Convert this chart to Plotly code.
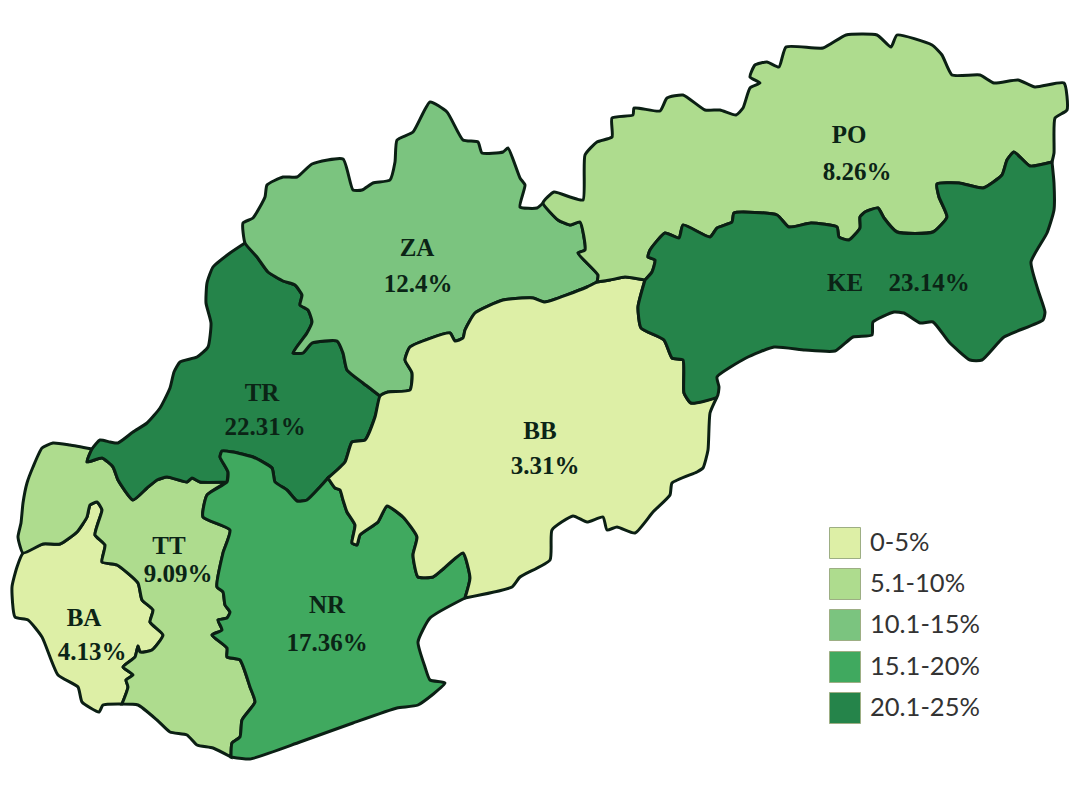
import plotly.graph_objects as go

# Region outlines were traced off the picture, in picture pixels. Shared borders are
# kept once, as arcs, so that neighbouring regions meet exactly.
TT_NW = [(23, 553), (18, 537), (21, 523), (23, 503), (27, 483), (33, 467), (42, 448), (53, 443), (70, 445), (92, 449)]
TR_WEST = [(92, 449), (100, 440), (110, 442), (118, 443), (133, 432), (147, 423), (160, 408), (170, 388), (174, 372),
           (180, 362), (197, 357), (208, 347), (211, 323), (206, 303), (207, 283), (213, 267), (230, 253), (245, 243)]
TR_ZA = [(245, 243), (257, 257), (268, 272), (283, 281), (295, 285), (302, 295), (300, 305), (308, 310), (312, 322),
         (307, 333), (293, 353), (303, 353), (312, 343), (337, 341), (343, 353), (347, 370), (363, 383), (380, 396)]
TR_BB = [(380, 396), (375, 417), (365, 440), (352, 442), (345, 462), (328, 478)]
TR_NR = [(328, 478), (320, 487), (307, 500), (297, 501), (287, 490), (275, 482), (272, 468), (253, 457), (233, 452),
         (222, 451), (220, 457), (228, 472), (227, 482)]
TR_TT = [(227, 482), (200, 482), (192, 478), (187, 482), (167, 477), (157, 480), (147, 488), (133, 500), (118, 480),
         (113, 467), (102, 458), (87, 462), (92, 449)]
NR_TT = [(227, 482), (207, 495), (203, 517), (230, 530), (223, 553), (217, 587), (223, 592), (225, 605), (230, 612),
         (227, 618), (218, 620), (222, 630), (212, 635), (227, 648), (227, 657), (240, 660), (250, 687), (255, 702),
         (242, 720), (240, 737), (232, 743), (231, 757)]
BA_TT = [(23, 553), (43, 544), (60, 544), (77, 532), (87, 517), (90, 505), (97, 502), (102, 510), (98, 523), (95, 535),
         (105, 545), (102, 562), (117, 565), (138, 583), (142, 600), (153, 610), (150, 622), (163, 635), (152, 650),
         (140, 652), (138, 646), (135, 657), (123, 667), (133, 675), (126, 680), (128, 687), (122, 704)]
BA_OUTER = [(122, 704), (103, 705), (99, 712), (82, 702), (78, 687), (58, 675), (42, 637), (28, 620), (15, 617),
            (12, 587), (17, 567), (23, 553)]
TT_SOUTH = [(122, 704), (138, 705), (157, 720), (170, 732), (187, 735), (197, 745), (213, 748), (231, 757)]
NR_SOUTH = [(231, 757), (250, 759), (300, 742), (353, 723), (397, 708), (418, 705), (445, 683), (430, 680), (425, 667),
            (418, 642), (430, 618), (465, 598)]
NR_BB = [(328, 478), (335, 488), (340, 490), (343, 500), (347, 512), (355, 525), (352, 543), (357, 545), (360, 535),
         (378, 522), (387, 506), (403, 517), (417, 537), (413, 555), (418, 577), (433, 577), (442, 570), (463, 553),
         (470, 578), (465, 598)]
BB_SOUTH = [(465, 598), (512, 587), (520, 577), (550, 560), (552, 530), (573, 516), (587, 522), (603, 517), (607, 530),
            (617, 527), (635, 533), (653, 512), (670, 495), (672, 483), (697, 472), (703, 468), (708, 450), (710, 413),
            (717, 397)]
BB_KE = [(717, 397), (691, 403), (684, 393), (683, 360), (672, 358), (664, 340), (641, 328), (638, 307), (645, 280)]
KE_OUTER = [(717, 397), (719, 387), (717, 377), (746, 358), (774, 347), (805, 350), (835, 351), (853, 337), (872, 335),
            (873, 322), (894, 312), (904, 313), (920, 323), (933, 322), (949, 342), (970, 360), (982, 360), (1004, 337),
            (1043, 320), (1045, 312), (1038, 290), (1031, 262), (1047, 233), (1054, 210), (1054, 183), (1052, 162)]
PO_KE = [(1052, 162), (1030, 166), (1014, 152), (1007, 160), (1002, 175), (983, 188), (959, 183), (937, 184), (939, 197),
         (947, 217), (933, 232), (897, 232), (884, 218), (878, 208), (865, 212), (860, 217), (860, 228), (849, 240),
         (839, 237), (837, 227), (811, 223), (789, 227), (777, 215), (734, 213), (732, 222), (717, 228), (710, 237),
         (683, 225), (679, 238), (665, 233), (650, 250), (648, 257), (655, 260), (652, 272), (645, 280)]
PO_BB = [(645, 280), (625, 277), (610, 280), (597, 282)]
ZA_BB = [(597, 282), (587, 287), (545, 302), (533, 298), (503, 300), (475, 313), (465, 330), (463, 338), (455, 341),
         (450, 333), (410, 347), (405, 360), (412, 373), (410, 390), (388, 392), (380, 396)]
ZA_PO = [(597, 282), (598, 275), (578, 253), (585, 250), (580, 222), (570, 225), (558, 220), (543, 203)]
ZA_NORTH = [(245, 243), (243, 223), (253, 218), (265, 197), (267, 185), (283, 177), (297, 177), (312, 164), (343, 159),
            (353, 190), (362, 190), (373, 183), (390, 180), (395, 162), (397, 140), (413, 132), (430, 102), (447, 112),
            (463, 140), (478, 142), (482, 153), (503, 152), (508, 148), (520, 178), (525, 185), (520, 207), (537, 208),
            (543, 203)]
PO_OUTER = [(543, 203), (554, 192), (570, 197), (583, 200), (585, 155), (597, 142), (612, 137), (612, 118), (633, 115),
            (634, 108), (660, 111), (667, 98), (683, 95), (705, 110), (720, 110), (736, 115), (743, 108), (750, 88),
            (760, 83), (750, 77), (755, 65), (767, 62), (779, 67), (786, 47), (823, 48), (846, 35), (877, 35), (891, 47),
            (897, 35), (932, 45), (942, 55), (952, 75), (980, 75), (994, 83), (1018, 80), (1035, 87), (1064, 83),
            (1067, 110), (1055, 118), (1054, 153), (1052, 162)]

# region name, value shown on the map
region_names = ['BA', 'TT', 'TR', 'NR', 'ZA', 'BB', 'PO', 'KE']
region_values = [4.13, 9.09, 22.31, 17.36, 12.4, 3.31, 8.26, 23.14]
value_labels = ['4.13%', '9.09%', '22.31%', '17.36%', '12.4%', '3.31%', '8.26%', '23.14%']

legend_labels = ['0-5%', '5.1-10%', '10.1-15%', '15.1-20%', '20.1-25%']
legend_tops = [5, 10, 15, 20, 25]
legend_colors = ['#DDEFA6', '#AEDC8E', '#7BC47F', '#40A95F', '#25844A']

# where the texts sit
name_x = [84, 169, 262, 327, 417, 540, 849, 845]
name_y = [620, 548, 395, 607, 250, 433, 137, 285]
value_x = [92, 178, 265, 327, 418, 545, 857, 929]
value_y = [654, 576, 429, 645, 286, 468, 174, 285]


def rev(arc):
    return arc[::-1]


outlines = {
    'BA': BA_TT + BA_OUTER,
    'TT': TT_NW + rev(TR_TT) + NR_TT + rev(TT_SOUTH) + rev(BA_TT),
    'TR': TR_WEST + TR_ZA + TR_BB + TR_NR + TR_TT,
    'NR': NR_TT + NR_SOUTH + rev(NR_BB) + TR_NR,
    'ZA': ZA_NORTH + rev(ZA_PO) + ZA_BB + rev(TR_ZA),
    'BB': TR_BB + NR_BB + BB_SOUTH + BB_KE + PO_BB + ZA_BB,
    'PO': PO_OUTER + PO_KE + PO_BB + ZA_PO,
    'KE': KE_OUTER + PO_KE + rev(BB_KE),
}


def color_for(value):
    for top, color in zip(legend_tops, legend_colors):
        if value <= top:
            return color
    return legend_colors[-1]


fig = go.Figure()

for name, value in zip(region_names, region_values):
    pts = outlines[name]
    fig.add_trace(go.Scatter(
        x=[p[0] for p in pts],
        y=[p[1] for p in pts],
        mode='lines',
        fill='toself',
        fillcolor=color_for(value),
        line=dict(color='#0B1F14', width=3, shape='spline', smoothing=0.5),
        hoverinfo='text',
        text=name,
    ))

text_font = dict(family='Liberation Serif', size=25, color='#0B2416', weight='bold')
fig.add_trace(go.Scatter(x=name_x, y=name_y, mode='text', text=region_names, textfont=text_font, hoverinfo='skip'))
fig.add_trace(go.Scatter(x=value_x, y=value_y, mode='text', text=value_labels, textfont=text_font, hoverinfo='skip'))

# legend is drawn by hand: Plotly's own legend can't do swatches this big
legend_y = [543, 584, 625, 667, 708]
fig.add_trace(go.Scatter(
    x=[845] * 5, y=legend_y, mode='markers',
    marker=dict(symbol='square', size=31, color=legend_colors, line=dict(color='#9DAE84', width=1)),
    hoverinfo='skip',
))
fig.add_trace(go.Scatter(
    x=[870] * 5, y=[y + 2 for y in legend_y], mode='text', text=legend_labels, textposition='middle right',
    textfont=dict(family='Lato', size=25.5, color='#333333'), hoverinfo='skip',
))

fig.update_layout(
    width=1077, height=800,
    margin=dict(l=0, r=0, t=0, b=0),
    showlegend=False,
    plot_bgcolor='white', paper_bgcolor='white',
    xaxis=dict(range=[0, 1077], visible=False),
    yaxis=dict(range=[800, 0], visible=False),
)

fig.write_html("out.html", config=dict(displayModeBar=False), post_script="document.body.style.margin='0';")
